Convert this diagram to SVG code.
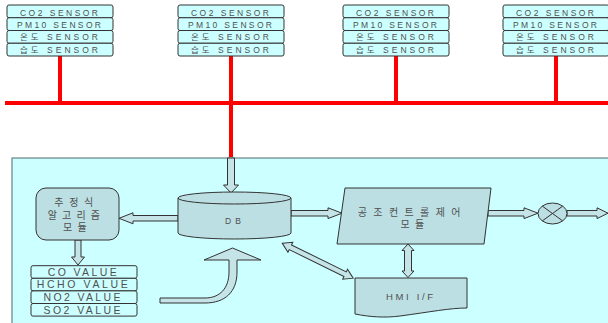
<svg xmlns="http://www.w3.org/2000/svg" width="608" height="323" viewBox="0 0 608 323">
<style>
.cell{fill:#CCFFFF;stroke:#333;stroke-width:1}
.shape{fill:#BCDFE3;stroke:#333;stroke-width:1}
.arr{fill:#C4E4E8;stroke:#333;stroke-width:1;stroke-linejoin:miter}
.bus{stroke:#FF0000;stroke-width:4;fill:none}
.t{font-family:"Liberation Sans","Noto Sans CJK KR",sans-serif;fill:#505050;text-anchor:middle}
.s{font-size:8.5px}
.v{font-size:10.5px}
.k{font-size:10px}
</style>
<defs>
<g id="sensor">
<rect class="cell" x="0" y="0" width="106" height="12.75" rx="2"/>
<rect class="cell" x="0" y="12.75" width="106" height="12.75" rx="2"/>
<rect class="cell" x="0" y="25.5" width="106" height="12.75" rx="2"/>
<rect class="cell" x="0" y="38.25" width="106" height="12.75" rx="2"/>
<text class="t s" x="52" y="10.5" textLength="78" lengthAdjust="spacing">CO2 SENSOR</text>
<text class="t s" x="52" y="22.9" textLength="84" lengthAdjust="spacing">PM10 SENSOR</text>
<text class="t s" x="52" y="35.2" textLength="78" lengthAdjust="spacing">온도 SENSOR</text>
<text class="t s" x="52" y="48" textLength="78" lengthAdjust="spacing">습도 SENSOR</text>
</g>
</defs>

<rect x="12" y="158" width="600" height="170" fill="#CCFFFF" stroke="#4d6a6a" stroke-width="1"/>

<g id="connectors">
<path class="bus" d="M5,103 H608 M60,56 V103 M231,56 V157 M396,56 V103 M556,56 V103"/>
<polygon class="arr" points="227.5,158 234.5,158 234.5,185 238.5,185 231,193 223.5,185 227.5,185"/>
<polygon class="arr" points="178,215.5 133,215.5 133,212.8 119,218.3 133,223.8 133,221 178,221"/>
<polygon class="arr" points="75,240 81,240 81,257 84.5,257 78,265 71.5,257 75,257"/>
<polygon class="arr" points="291,210.5 328,210.5 328,207.8 342,213.2 328,218.6 328,216 291,216"/>
<polygon class="arr" points="488,210.5 524,210.5 524,207.8 538,213.2 524,218.6 524,216 488,216"/>
<polygon class="arr" points="567,210.5 597,210.5 597,207.8 608,213.2 597,218.6 597,216 567,216"/>
<polygon class="arr" points="408,244 414,250.5 411.5,250.5 411.5,271 414,271 408,277.5 402,271 404.5,271 404.5,250.5 402,250.5"/>
<polygon class="arr" transform="translate(282.3,243.3) rotate(26.2)" points="0,0 9,-5.5 9,-2.6 70,-2.6 70,-5.5 79,0 70,5.5 70,2.6 9,2.6 9,5.5"/>
<path class="arr" d="M160,298 L205,298 C220,298 229,288 229,272 L229,260 L204,260 L232.5,248 L261,260 L237,260 L237,272 C237,292 225,303 205,303 L160,303 Z"/>
</g>

<g id="sensor1"><use href="#sensor" x="7" y="5"/></g>
<g id="sensor2"><use href="#sensor" x="178" y="5"/></g>
<g id="sensor3"><use href="#sensor" x="343" y="5"/></g>
<g id="sensor4"><use href="#sensor" x="503" y="5"/></g>

<g id="db">
<path class="shape" d="M178,198 V233 A56.5,6 0 0 0 291,233 V198"/>
<ellipse class="shape" cx="234.5" cy="198" rx="56.5" ry="6"/>
<text class="t s" x="233" y="223.5" textLength="16" lengthAdjust="spacing">DB</text>
</g>

<g id="estimator">
<rect class="shape" x="36" y="188" width="83" height="52" rx="10"/>
<text class="t k" x="74.5" y="206" letter-spacing="1.5">추 정 식</text>
<text class="t k" x="74.5" y="219" letter-spacing="1.2">알 고 리 즘</text>
<text class="t k" x="75.5" y="231" letter-spacing="1.2">모 듈</text>
</g>

<g id="values">
<rect class="cell" x="31" y="265.7" width="106" height="12.6" rx="2"/>
<rect class="cell" x="31" y="278.3" width="106" height="12.6" rx="2"/>
<rect class="cell" x="31" y="290.9" width="106" height="12.6" rx="2"/>
<rect class="cell" x="31" y="303.5" width="106" height="12.6" rx="2"/>
<text class="t v" x="82.2" y="275.7" textLength="69" lengthAdjust="spacing">CO VALUE</text>
<text class="t v" x="82.2" y="288.3" textLength="91" lengthAdjust="spacing">HCHO VALUE</text>
<text class="t v" x="82" y="300.9" textLength="77" lengthAdjust="spacing">NO2 VALUE</text>
<text class="t v" x="82" y="313.5" textLength="77" lengthAdjust="spacing">SO2 VALUE</text>
</g>

<g id="control">
<polygon class="shape" points="345,188 491,188 484,244 337,244"/>
<text class="t k" x="410" y="216" letter-spacing="1.8">공 조 컨 트 롤 제 어</text>
<text class="t k" x="413" y="227.5" letter-spacing="1.2">모 듈</text>
</g>

<g id="mixer">
<ellipse class="shape" cx="552.5" cy="213.5" rx="14.5" ry="10.5"/>
<path d="M542.3,206.1 L562.7,220.9 M542.3,220.9 L562.7,206.1" stroke="#333" stroke-width="1"/>
</g>

<g id="hmi">
<path class="shape" d="M355,278 H467 V308 C450,308 430,312 400,316 C385,318 370,317 355,314 Z"/>
<text class="t" x="409.5" y="300" font-size="9.5" textLength="47" lengthAdjust="spacing">HMI I/F</text>
</g>
</svg>
